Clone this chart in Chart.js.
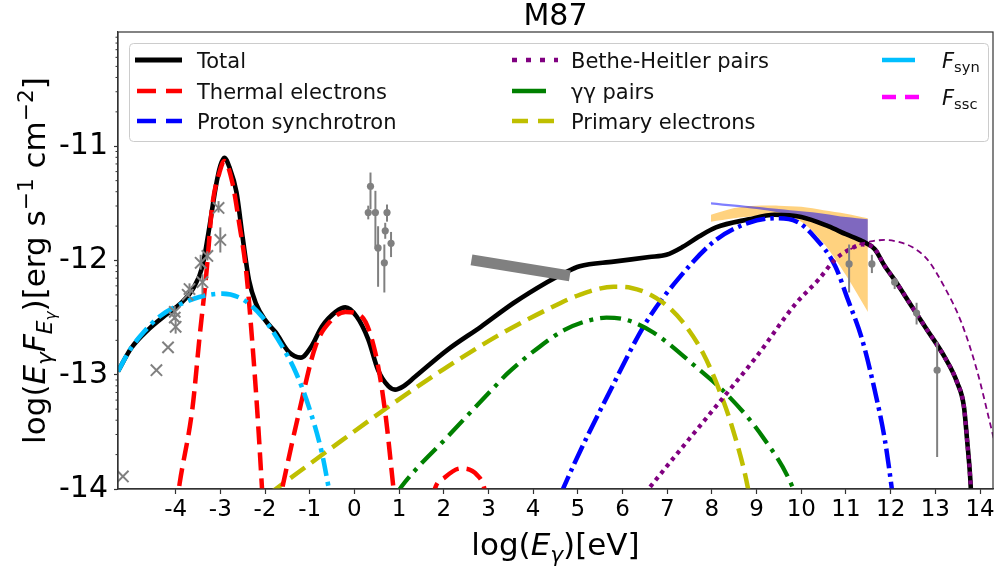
<!DOCTYPE html>
<html>
<head>
<meta charset="utf-8">
<script src="https://cdn.jsdelivr.net/npm/chart.js@4.4.0/dist/chart.umd.min.js"></script>
<style>
html, body { margin: 0; padding: 0; background: #fff; }
</style>
</head>
<body>
<canvas id="sed" width="1003" height="570"></canvas>
<script>
// Tick values
const xTicks = [-4, -3, -2, -1, 0, 1, 2, 3, 4, 5, 6, 7, 8, 9, 10, 11, 12, 13, 14];
const yTicks = [-14, -13, -12, -11];

// Model curves, log10(E) [eV] vs log10(E F_E)
const totalX = [-5.29, -5.0, -4.6, -4.2, -3.9, -3.6, -3.4, -3.25, -3.1, -3.0, -2.91, -2.8, -2.64, -2.5, -2.36, -2.2, -2.0, -1.76, -1.47, -1.2, -0.96, -0.73, -0.42, -0.2, 0.05, 0.31, 0.53, 0.76, 0.91, 1.1, 1.35, 2.09, 2.83, 3.57, 4.31, 4.69, 5.04, 5.8, 6.6, 6.98, 7.35, 7.71, 8.09, 8.82, 9.4, 10.0, 10.6, 11.0, 11.36, 11.64, 11.87, 12.09, 12.47, 12.82, 13.2, 13.49, 13.64, 13.71, 13.78, 13.82];
const totalY = [-12.97, -12.77, -12.6, -12.47, -12.38, -12.24, -12.05, -11.72, -11.35, -11.17, -11.10, -11.18, -11.40, -11.80, -12.17, -12.38, -12.52, -12.63, -12.80, -12.85, -12.75, -12.58, -12.45, -12.41, -12.49, -12.69, -12.96, -13.10, -13.13, -13.10, -13.02, -12.78, -12.58, -12.37, -12.19, -12.11, -12.05, -12.01, -11.97, -11.95, -11.88, -11.79, -11.71, -11.64, -11.60, -11.62, -11.70, -11.77, -11.83, -11.90, -12.05, -12.17, -12.40, -12.61, -12.84, -13.07, -13.28, -13.57, -13.90, -14.2];

const thermalX = [-4.0, -3.91, -3.62, -3.47, -3.31, -3.18, -3.02, -2.91, -2.73, -2.58, -2.42, -2.29, -2.18, -2.07, -2.04, -1.9, -1.73, -1.62, -1.24, -0.87, -0.51, -0.2, 0.16, 0.47, 0.69, 0.87, 0.93, 1.3, 1.75, 1.8, 2.02, 2.38, 2.75, 2.91, 2.95];
const thermalY = [-14.2, -13.95, -13.28, -12.69, -12.10, -11.52, -11.23, -11.13, -11.32, -11.67, -12.10, -12.69, -13.28, -13.98, -14.2, null, -14.2, -14.0, -13.33, -12.75, -12.52, -12.45, -12.49, -12.81, -13.33, -13.98, -14.2, null, -14.1, -14.0, -13.9, -13.82, -13.88, -14.0, -14.1];

const fsynX = [-5.29, -5.02, -4.7, -4.36, -3.98, -3.47, -2.96, -2.5, -2.07, -1.62, -1.31, -1.02, -0.73, -0.58, -0.5];
const fsynY = [-12.97, -12.78, -12.62, -12.49, -12.40, -12.32, -12.29, -12.34, -12.49, -12.75, -12.98, -13.28, -13.68, -13.98, -14.15];

const primX = [-1.9, -1.76, -0.51, 0.98, 2.0, 3.2, 4.31, 5.04, 5.8, 6.2, 6.91, 7.35, 7.8, 8.16, 8.47, 8.8, 8.85];
const primY = [-14.04, -14.0, -13.64, -13.22, -12.95, -12.66, -12.43, -12.30, -12.23, -12.24, -12.37, -12.54, -12.81, -13.13, -13.48, -13.98, -14.1];

const ggX = [0.95, 1.05, 2.09, 3.2, 3.42, 4.16, 4.69, 5.2, 5.64, 6.09, 6.69, 7.64, 8.38, 9.13, 9.8, 9.85];
const ggY = [-14.04, -13.98, -13.54, -13.08, -12.99, -12.75, -12.61, -12.53, -12.50, -12.52, -12.63, -12.93, -13.19, -13.54, -13.98, -14.04];

const protX = [4.62, 4.69, 5.8, 6.53, 7.27, 8.09, 8.82, 9.42, 9.9, 10.31, 10.76, 11.04, 11.36, 11.64, 11.87, 12.02, 12.05];
const protY = [-14.05, -13.98, -13.08, -12.54, -12.15, -11.82, -11.67, -11.63, -11.66, -11.80, -12.05, -12.34, -12.69, -13.13, -13.57, -13.98, -14.08];

const bhX = [6.5, 6.58, 8.0, 9.0, 9.87, 10.38, 10.76, 11.1, 11.36, 11.6, 11.87, 12.09, 12.47, 12.82, 13.2, 13.49, 13.64, 13.71, 13.78, 13.82];
const bhY = [-14.04, -14.0, -13.32, -12.84, -12.38, -12.17, -11.99, -11.90, -11.86, -11.88, -12.05, -12.17, -12.40, -12.61, -12.84, -13.07, -13.28, -13.57, -13.90, -14.2];

const bhThinX = [11.1, 11.3, 11.6, 11.87, 12.2, 12.47, 12.82, 13.2, 13.58, 13.93, 14.24, 14.32];
const bhThinY = [-11.90, -11.86, -11.83, -11.82, -11.84, -11.88, -11.99, -12.23, -12.54, -12.96, -13.45, -13.58];

const sscX = [];
const sscY = [];

// Observations
const uvX = [-5.18, -4.43, -4.17, -4.00, -4.02, -4.02, -3.73, -3.69, -3.40, -3.44, -3.29, -3.00, -3.04];
const uvY = [-13.89, -12.96, -12.76, -12.58, -12.50, -12.45, -12.30, -12.25, -12.19, -12.02, -11.96, -11.82, -11.54];
const uvLo = [-13.89, -12.96, -12.76, -12.64, -12.50, -12.52, -12.30, -12.30, -12.30, -12.08, -12.00, -11.93, -11.58];
const uvHi = [-13.89, -12.96, -12.76, -12.52, -12.50, -12.40, -12.30, -12.20, -12.12, -11.95, -11.92, -11.71, -11.48];

const xrX = [0.36, 0.31, 0.47, 0.53, 0.67, 0.69, 0.73, 0.82];
const xrY = [-11.35, -11.58, -11.58, -11.89, -12.02, -11.74, -11.58, -11.85];
const xrLo = [-11.55, -11.64, -11.90, -12.23, -12.28, -11.81, -11.66, -11.97];
const xrHi = [-11.23, -11.52, -11.39, -11.70, -11.86, -11.67, -11.51, -11.75];

const bowX = [2.62, 4.82];
const bowY = [-11.995, -12.135];

const vheX = [11.07, 11.58, 12.09, 12.58, 13.04];
const vheY = [-12.03, -12.03, -12.19, -12.46, -12.96];
const vheLo = [-12.28, -12.11, -12.25, -12.56, -13.72];
const vheHi = [-11.86, -11.95, -12.15, -12.37, -12.71];

// Gamma-ray butterflies
const bandX = [7.98, 8.5, 9.0, 9.5, 10.0, 10.5, 11.0, 11.49];
const orangeHi = [-11.60, -11.54, -11.52, -11.52, -11.53, -11.56, -11.59, -11.63];
const orangeLo = [-11.66, -11.63, -11.61, -11.61, -11.66, -11.85, -12.13, -12.45];
const blueHi = [-11.49, -11.51, -11.53, -11.55, -11.57, -11.59, -11.62, -11.64];
const blueLo = [-11.51, -11.53, -11.55, -11.58, -11.63, -11.70, -11.78, -11.84];

const FONT = '"DejaVu Sans", sans-serif';

function pts(xs, ys) {
    return xs.map((x, i) => ({ x: x, y: ys[i] }));
}
function errPts(xs, ys, lo, hi) {
    return xs.map((x, i) => ({ x: x, y: ys[i], lo: lo[i], hi: hi[i] }));
}

function curve(label, xs, ys, color, width, dash, order) {
    return {
        label: label,
        data: pts(xs, ys),
        borderColor: color,
        borderWidth: width,
        borderDash: dash,
        pointRadius: 0,
        fill: false,
        cubicInterpolationMode: 'monotone',
        clip: 0,
        order: order
    };
}

function band(xs, ys, color, fillTo, order) {
    return {
        data: pts(xs, ys),
        borderColor: 'rgba(0,0,0,0)',
        borderWidth: 0,
        pointRadius: 0,
        backgroundColor: color,
        fill: fillTo,
        tension: 0.3,
        order: order
    };
}

const datasets = [
    band(bandX, orangeHi, 'rgba(255,165,0,0.5)', false, 20),
    band(bandX, orangeLo, 'rgba(255,165,0,0.5)', 0, 19),
    band(bandX, blueHi, 'rgba(0,0,255,0.5)', false, 18),
    band(bandX, blueLo, 'rgba(0,0,255,0.5)', 2, 17),
    curve('Total', totalX, totalY, '#000000', 4.6, [], 10),
    curve('', bhThinX, bhThinY, '#800080', 1.8, [6, 4], 9),
    curve('Proton synchrotron', protX, protY, '#0000ff', 4.5, [20, 5, 3.5, 5], 8),
    curve('γγ pairs', ggX, ggY, '#008000', 4.3, [21, 7, 4, 7], 7),
    curve('Primary electrons', primX, primY, '#bfbf00', 4.5, [18, 8], 6),
    curve('Thermal electrons', thermalX, thermalY, '#ff0000', 4.5, [18, 8], 5),
    curve('Bethe-Heitler pairs', bhX, bhY, '#800080', 4.2, [4, 4.5], 4),
    curve('F_syn', fsynX, fsynY, '#00bfff', 4.6, [18, 6, 4, 6], 3),
    curve('F_ssc', sscX, sscY, '#ff00ff', 4.5, [16, 8], 3),
    {
        data: pts(bowX, bowY),
        borderColor: '#808080',
        borderWidth: 11,
        pointRadius: 0,
        fill: false,
        order: 2
    },
    {
        data: errPts(uvX, uvY, uvLo, uvHi),
        errBars: true,
        showLine: false,
        pointStyle: 'crossRot',
        pointRadius: 8,
        pointBorderWidth: 2,
        borderColor: '#808080',
        pointBorderColor: '#808080',
        order: 1
    },
    {
        data: errPts(xrX, xrY, xrLo, xrHi),
        errBars: true,
        showLine: false,
        pointStyle: 'circle',
        pointRadius: 3.6,
        pointBorderWidth: 0,
        borderColor: '#808080',
        pointBackgroundColor: '#808080',
        order: 1
    },
    {
        data: errPts(vheX, vheY, vheLo, vheHi),
        errBars: true,
        showLine: false,
        pointStyle: 'circle',
        pointRadius: 3.6,
        pointBorderWidth: 0,
        borderColor: '#808080',
        pointBackgroundColor: '#808080',
        order: 1
    }
];

// Legend layout: column-major like matplotlib ncol=3
const legendItems = [
    { parts: [{ t: 'Total' }], color: '#000000', width: 5, dash: [], x0: 135, x1: 182, y: 60 },
    { parts: [{ t: 'Thermal electrons' }], color: '#ff0000', width: 4.5, dash: [19, 10], x0: 137, x1: 182, y: 91 },
    { parts: [{ t: 'Proton synchrotron' }], color: '#0000ff', width: 4.5, dash: [19, 10], x0: 137, x1: 182, y: 121 },
    { parts: [{ t: 'Bethe-Heitler pairs' }], color: '#800080', width: 4.5, dash: [5, 9], x0: 512, x1: 558, y: 60 },
    { parts: [{ t: 'γγ pairs' }], color: '#008000', width: 4.5, dash: [], x0: 512, x1: 546, y: 91 },
    { parts: [{ t: 'Primary electrons' }], color: '#bfbf00', width: 4.5, dash: [16, 10], x0: 512, x1: 556, y: 121 },
    { parts: [{ t: 'F', i: 1 }, { t: 'syn', s: 0.7, dy: 0.22 }], color: '#00bfff', width: 4.5, dash: [], x0: 882, x1: 915, y: 60 },
    { parts: [{ t: 'F', i: 1 }, { t: 'ssc', s: 0.7, dy: 0.22 }], color: '#ff00ff', width: 4.5, dash: [14, 9], x0: 882, x1: 925, y: 97 }
];

const xTitle = [{ t: 'log(' }, { t: 'E', i: 1 }, { t: 'γ', i: 1, s: 0.7, dy: 0.22 }, { t: ')[eV]' }];
const yTitle = [{ t: 'log(' }, { t: 'E', i: 1 }, { t: 'γ', i: 1, s: 0.7, dy: 0.22 }, { t: 'F', i: 1 }, { t: 'E', i: 1, s: 0.7, dy: 0.22 }, { t: 'γ', i: 1, s: 0.5, dy: 0.36 }, { t: ')[erg s' }, { t: '−1', s: 0.7, dy: -0.4 }, { t: ' cm' }, { t: '−2', s: 0.7, dy: -0.4 }, { t: ']' }];

function fontOf(p, size) {
    return (p.i ? 'italic ' : '') + (size * (p.s || 1)).toFixed(1) + 'px ' + FONT;
}

function drawRich(ctx, parts, x, y, size, align) {
    let w = 0;
    parts.forEach(p => { ctx.font = fontOf(p, size); w += ctx.measureText(p.t).width; });
    let cx = align === 'center' ? x - w / 2 : x;
    ctx.textAlign = 'left';
    ctx.textBaseline = 'alphabetic';
    parts.forEach(p => {
        ctx.font = fontOf(p, size);
        ctx.fillText(p.t, cx, y + (p.dy || 0) * size);
        cx += ctx.measureText(p.t).width;
    });
}

// Vertical error bars drawn under the markers
const errBarPlugin = {
    id: 'errBars',
    beforeDatasetDraw(chart, args) {
        const ds = chart.data.datasets[args.index];
        if (!ds.errBars) return;
        const xs = chart.scales.x, ys = chart.scales.y, ctx = chart.ctx;
        ctx.save();
        ctx.strokeStyle = ds.borderColor;
        ctx.lineWidth = 2;
        ds.data.forEach(p => {
            if (p.lo === p.hi) return;
            const px = xs.getPixelForValue(p.x);
            ctx.beginPath();
            ctx.moveTo(px, ys.getPixelForValue(p.lo));
            ctx.lineTo(px, ys.getPixelForValue(p.hi));
            ctx.stroke();
        });
        ctx.restore();
    }
};

// Frame, minor ticks, titles and legend
const decorPlugin = {
    id: 'decor',
    afterDraw(chart) {
        const ctx = chart.ctx, a = chart.chartArea, ys = chart.scales.y;
        ctx.save();
        ctx.strokeStyle = '#333';
        ctx.lineWidth = 1.2;
        ctx.strokeRect(a.left, a.top, a.right - a.left, a.bottom - a.top);

        // log-style minor ticks on the flux axis
        ctx.lineWidth = 1;
        for (let d = -15; d <= -11; d++) {
            for (let k = 2; k <= 9; k++) {
                const v = d + Math.log10(k);
                if (v <= ys.min || v >= ys.max) continue;
                const py = ys.getPixelForValue(v);
                ctx.beginPath();
                ctx.moveTo(a.left - 2.5, py);
                ctx.lineTo(a.left, py);
                ctx.stroke();
            }
        }

        ctx.fillStyle = '#000';
        ctx.font = '30px ' + FONT;
        ctx.textAlign = 'center';
        ctx.textBaseline = 'alphabetic';
        ctx.fillText('M87', (a.left + a.right) / 2, 25);

        drawRich(ctx, xTitle, (a.left + a.right) / 2, 555, 31, 'center');

        ctx.save();
        ctx.translate(45, (a.top + a.bottom) / 2);
        ctx.rotate(-Math.PI / 2);
        drawRich(ctx, yTitle, 0, 0, 31, 'center');
        ctx.restore();

        // legend box
        ctx.fillStyle = 'rgba(255,255,255,0.85)';
        ctx.strokeStyle = '#cccccc';
        ctx.lineWidth = 1;
        ctx.beginPath();
        ctx.roundRect(129.5, 43.5, 859, 98, 4);
        ctx.fill();
        ctx.stroke();

        legendItems.forEach(it => {
            ctx.strokeStyle = it.color;
            ctx.lineWidth = it.width;
            ctx.setLineDash(it.dash);
            ctx.lineCap = 'butt';
            ctx.beginPath();
            ctx.moveTo(it.x0, it.y);
            ctx.lineTo(it.x1, it.y);
            ctx.stroke();
            ctx.setLineDash([]);
            ctx.fillStyle = '#111';
            const tx = it.x0 < 300 ? 197 : (it.x0 < 700 ? 571 : 942);
            drawRich(ctx, it.parts, tx, it.y + 7.5, 21, 'left');
        });
        ctx.restore();
    }
};

new Chart(document.getElementById('sed').getContext('2d'), {
    type: 'line',
    data: { datasets: datasets },
    options: {
        responsive: false,
        animation: false,
        events: [],
        parsing: true,
        layout: { padding: { top: 32, right: 4, left: 0, bottom: 0 } },
        plugins: {
            legend: { display: false },
            tooltip: { enabled: false },
            title: { display: false }
        },
        scales: {
            x: {
                type: 'linear',
                min: -5.29,
                max: 14.29,
                afterBuildTicks: function(scale) {
                    scale.ticks = xTicks.map(v => ({ value: v }));
                },
                afterFit: function(scale) {
                    scale.height = 81;
                    scale.paddingLeft = 0;
                    scale.paddingRight = 0;
                },
                ticks: {
                    autoSkip: false,
                    maxRotation: 0,
                    padding: 2,
                    color: '#000',
                    font: { family: FONT, size: 23 },
                    callback: function(value) { return String(value); }
                },
                grid: { drawOnChartArea: false, tickLength: 5, tickColor: '#333', tickWidth: 1.2 },
                border: { display: true, color: '#333', width: 1.2 }
            },
            y: {
                type: 'linear',
                min: -14,
                max: -10,
                afterBuildTicks: function(scale) {
                    scale.ticks = yTicks.map(v => ({ value: v }));
                },
                afterFit: function(scale) {
                    scale.width = 118;
                    scale.paddingTop = 0;
                    scale.paddingBottom = 0;
                },
                ticks: {
                    padding: 6,
                    color: '#000',
                    font: { family: FONT, size: 30 },
                    callback: function(value) { return String(value); }
                },
                grid: { drawOnChartArea: false, tickLength: 4, tickColor: '#333', tickWidth: 1.2 },
                border: { display: true, color: '#333', width: 1.2 }
            }
        }
    },
    plugins: [errBarPlugin, decorPlugin]
});
</script>
</body>
</html>
